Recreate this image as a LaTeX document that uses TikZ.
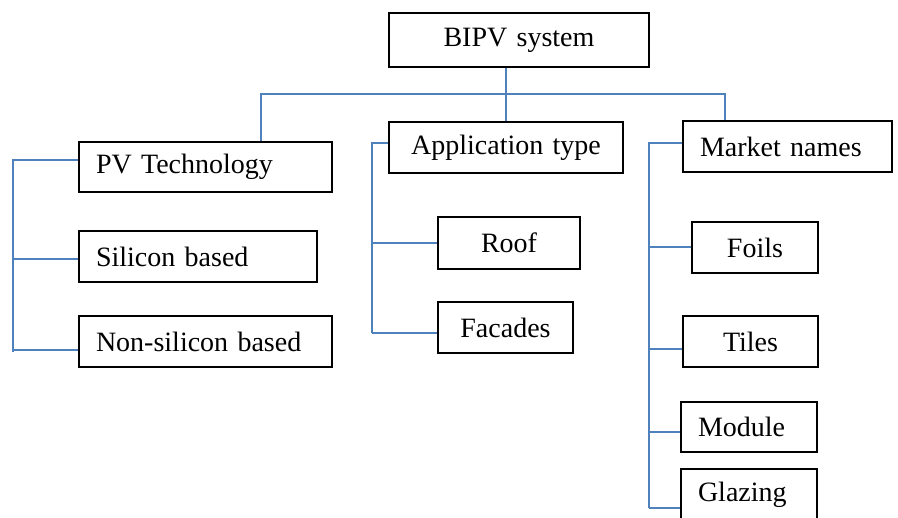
\documentclass[tikz,border=0pt]{standalone}
\usepackage{fontspec}
\setmainfont{Liberation Serif}
\usetikzlibrary{positioning}
\definecolor{linkblue}{RGB}{79,129,189}

\begin{document}
\begin{tikzpicture}[x=1pt,y=-1pt]
			\useasboundingbox (0,0) rectangle (898,518);
			\clip (0,0) rectangle (898,518);
			\begin{scope}[every node/.style={draw,line width=1.3pt,inner xsep=17pt,inner ysep=0pt,
				font=\fontsize{28}{30}\selectfont}]
				\node[text width=226pt,minimum height=54pt,align=center] (bipv) at (519,40) {BIPV system};
				\node[text width=219pt,minimum height=50pt,align=left] (pv) at (205.5,167) {PV Technology};
				\node[text width=204pt,minimum height=51pt,align=left] (si) at (198,256.5) {Silicon based};
				\node[text width=219pt,minimum height=51pt,align=left] (nsi) at (205.5,341.5) {Non-silicon based};
				\node[text width=200pt,minimum height=51pt,align=center] (app) at (506,147.5) {Application type};
				\node[text width=108pt,minimum height=52pt,align=center] (roof) at (509,243) {Roof};
				\node[text width=101pt,minimum height=51pt,align=center] (fac) at (505.5,327.5) {Facades};
				\node[text width=175pt,minimum height=51pt,align=left] (mkt) at (787.5,146.5) {Market names};
				\node[text width=92pt,minimum height=51pt,align=center] (foil) at (755,247.5) {Foils};
				\node[text width=101pt,minimum height=51pt,align=center] (tile) at (750.5,341.5) {Tiles};
				\node[text width=102pt,minimum height=50pt,align=left] (mod) at (749,427) {Module};
				\node[text width=102pt,minimum height=51pt,align=left] (glz) at (749,494.5) {Glazing};
			\end{scope}

			\coordinate (busL) at (261,94);
			\coordinate (busR) at (725,94);
			\coordinate (lbot) at (13,352);
			\coordinate (cbot) at (372,333);
			\coordinate (rbot) at (649,508);

			\begin{scope}[every path/.style={draw=linkblue,line width=1.4pt}]
				\path (app.north) -- (app.north |- bipv.south);
				\path (busL |- pv.north) -- (busL) -- (busR) -- (busR |- mkt.north);
				% left branch
				\path ([yshift=7pt]pv.west) -| (lbot);
				\path ([yshift=-2.5pt]si.west) -| (lbot);
				\path ([yshift=-8.5pt]nsi.west) -| (lbot);
				% middle branch
				\path ([yshift=4.5pt]app.west) -| (cbot);
				\path (roof.west) -| (cbot);
				\path ([yshift=-5.5pt]fac.west) -| (cbot);
				% right branch
				\path ([yshift=3.5pt]mkt.west) -| (rbot);
				\path ([yshift=0.5pt]foil.west) -| (rbot);
				\path ([yshift=-7.5pt]tile.west) -| (rbot);
				\path ([yshift=-5pt]mod.west) -| (rbot);
				\path ([yshift=-13.5pt]glz.west) -| (rbot);
			\end{scope}
		\end{tikzpicture}
\end{document}
